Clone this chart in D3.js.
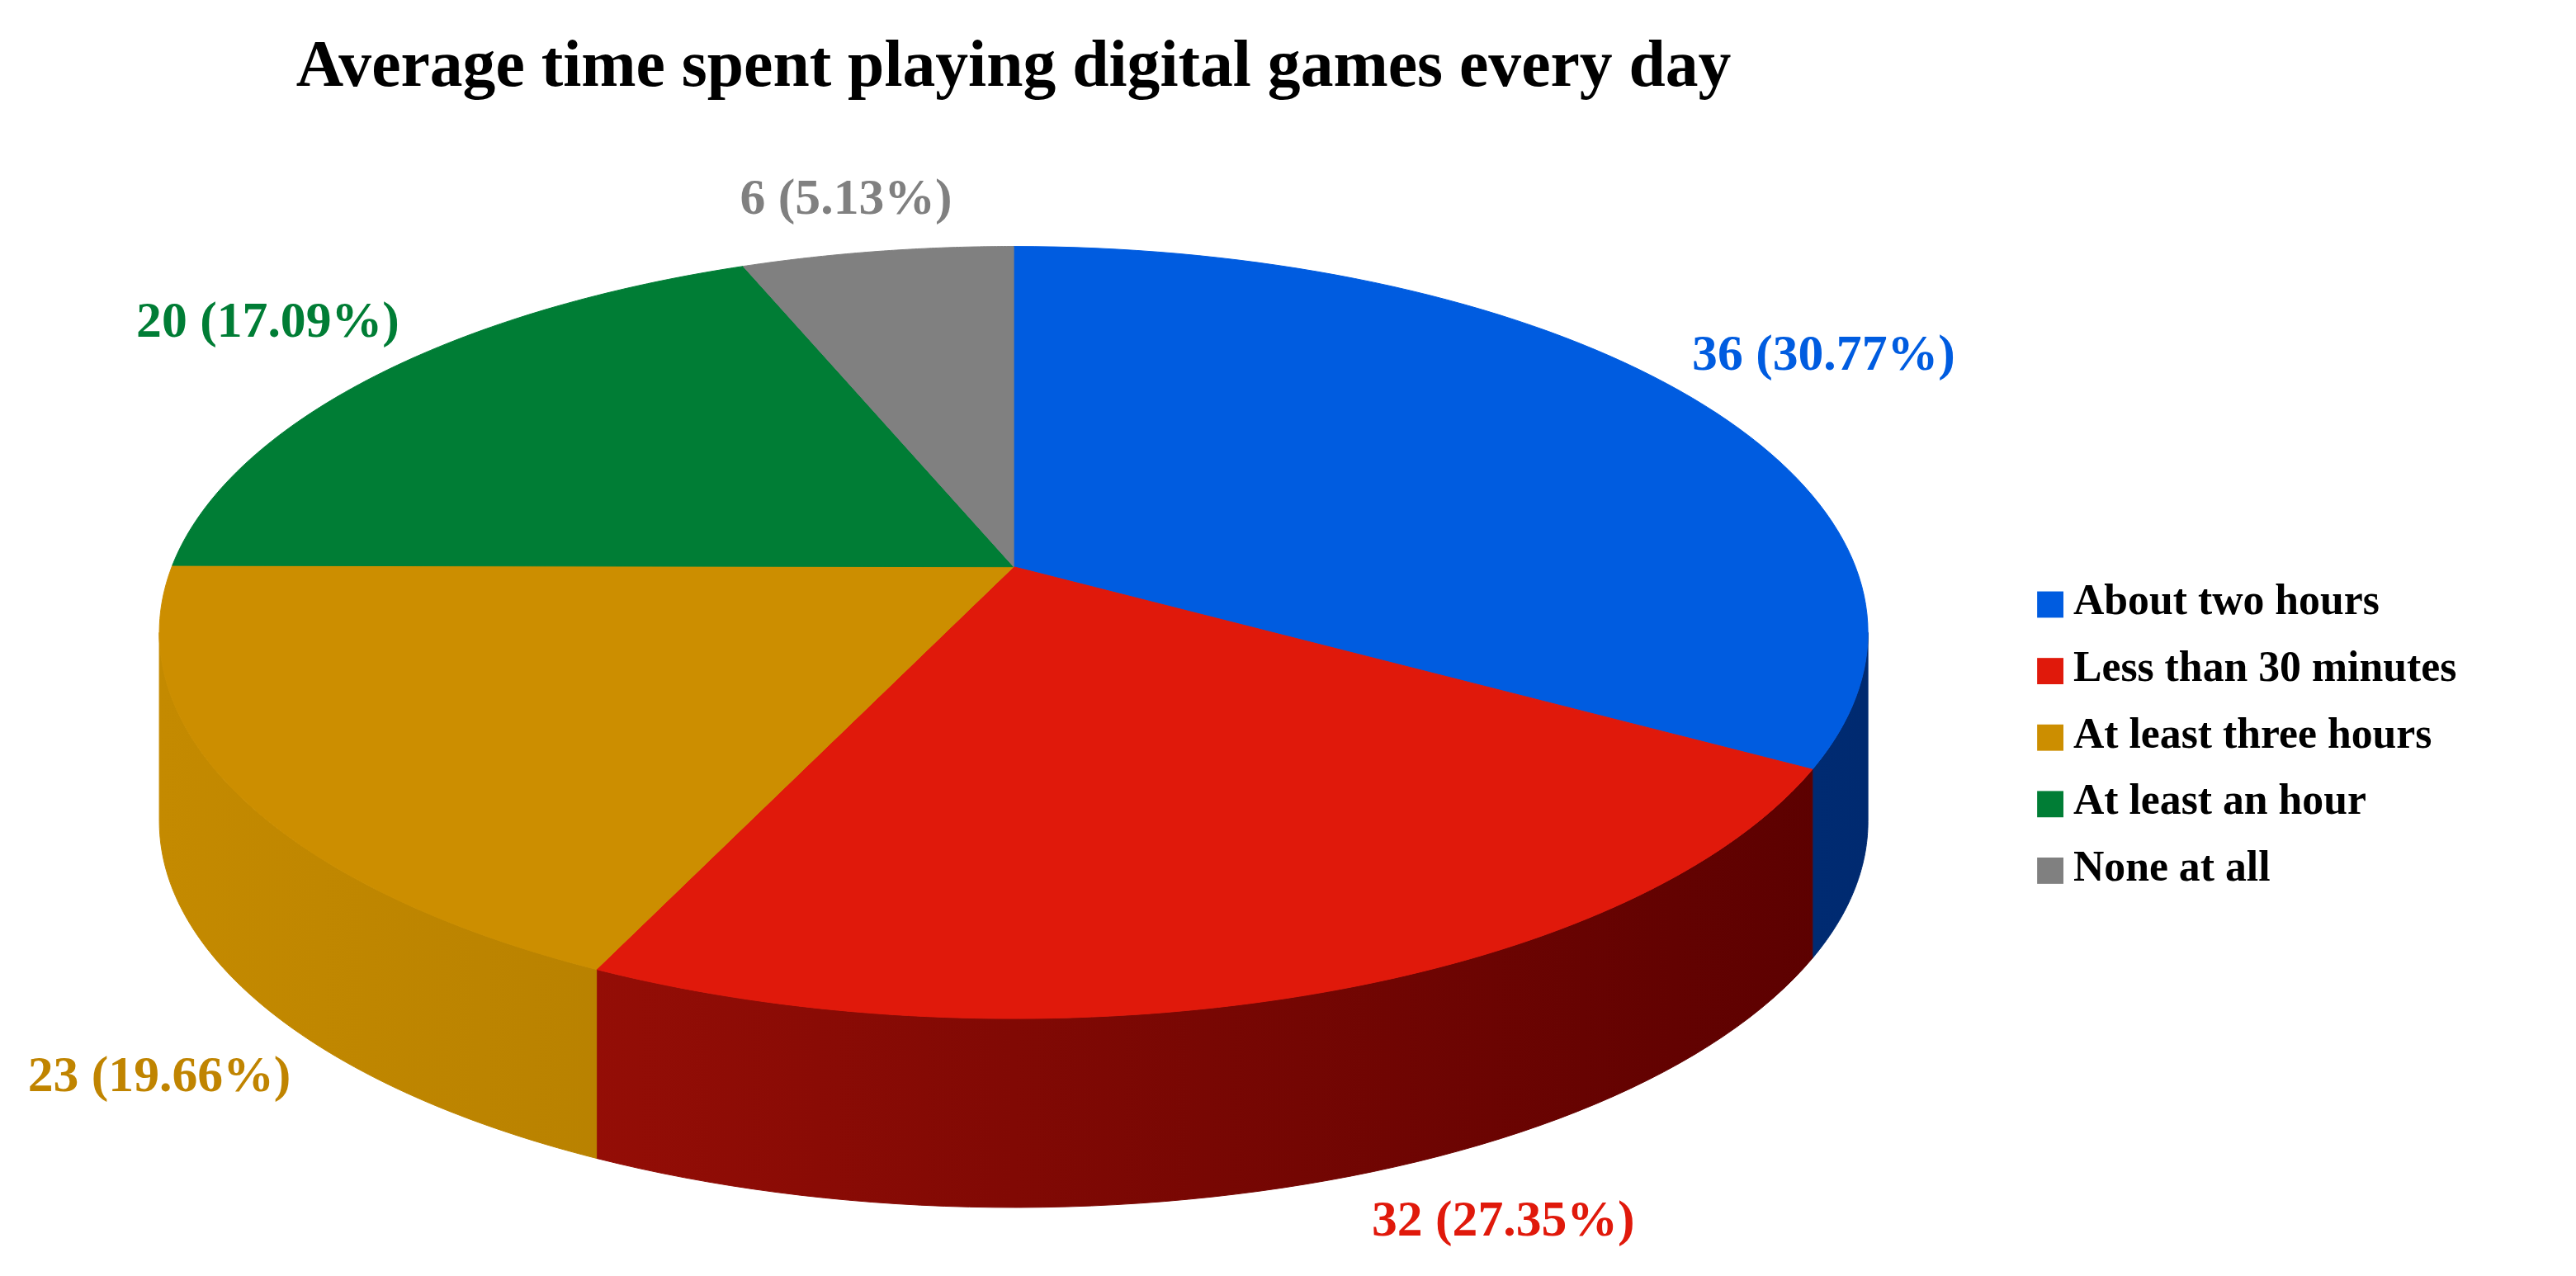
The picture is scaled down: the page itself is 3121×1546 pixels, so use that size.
<!DOCTYPE html><html><head><meta charset="utf-8">
<script src="https://cdn.jsdelivr.net/npm/d3@7"></script>
<style>body{margin:0;background:#fff}</style></head><body><svg id="c" width="3121" height="1546"></svg>
<script>
const categories=["About two hours","Less than 30 minutes","At least three hours","At least an hour","None at all"];
const values=[36,32,23,20,6];
const colors=["#005ce0","#e0190b","#cc8e00","#007d35","#808080"];
const sideDark=["#002a70","#5a0000","#9a6a00","#003d18","#404040"];
const sideLight=["#0048b0","#a81208","#c48a00","#006028","#606060"];
const labelPos=[[1110,218],[915,745],[97,657],[163,198],[515,123]];
const W=3121,H=1546,s=W/1568;
const svg=d3.select("#c").append("g").attr("transform",`scale(${s})`);
const total=d3.sum(values);
const pie=d3.pie().sort(null).value(d=>d).startAngle(0).endAngle(2*Math.PI)(values);
const cx=617,cy=385,rx=520,ry=235,vy=345,depth=115;
const pt=(t,dy=0)=>[cx+rx*Math.sin(t),cy-ry*Math.cos(t)+dy];
const defs=svg.append("defs");
svg.append("text").attr("x",617).attr("y",52).attr("text-anchor","middle").attr("font-family","Liberation Serif").attr("font-weight","bold").attr("font-size",40).text("Average time spent playing digital games every day");
pie.forEach((p,i)=>{
  const a=Math.max(p.startAngle,Math.PI/2),b=Math.min(p.endAngle,3*Math.PI/2);
  if(b<=a)return;
  const g=defs.append("linearGradient").attr("id","g"+i).attr("gradientUnits","userSpaceOnUse").attr("x1",cx-rx).attr("x2",cx+rx).attr("y1",0).attr("y2",0);
  g.append("stop").attr("offset",0).attr("stop-color",sideLight[i]);
  g.append("stop").attr("offset",1).attr("stop-color",sideDark[i]);
  const n=60,top=[],bot=[];
  for(let k=0;k<=n;k++){const t=a+(b-a)*k/n;top.push(pt(t));bot.push(pt(t,depth));}
  svg.append("path").attr("d",d3.line()(top.concat(bot.reverse()))+"Z").attr("fill",`url(#g${i})`).attr("stroke",`url(#g${i})`).attr("stroke-width",0.5);
});
pie.forEach((p,i)=>{
  const n=80,pts=[[cx,vy]];
  for(let k=0;k<=n;k++)pts.push(pt(p.startAngle+(p.endAngle-p.startAngle)*k/n));
  svg.append("path").attr("d",d3.line()(pts)+"Z").attr("fill",colors[i]).attr("stroke",colors[i]).attr("stroke-width",0.5);
});
pie.forEach((p,i)=>{
  svg.append("text").attr("x",labelPos[i][0]).attr("y",labelPos[i][1]).attr("text-anchor","middle").attr("dominant-baseline","middle")
   .attr("font-family","Liberation Serif").attr("font-weight","bold").attr("font-size",31).attr("fill",i==2?"#c08400":colors[i])
   .text(`${values[i]} (${(values[i]/total*100).toFixed(2)}%)`);
});
const lg=svg.append("g");
categories.forEach((c,i)=>{
  const y=368+i*40.5;
  lg.append("rect").attr("x",1240).attr("y",y-8).attr("width",16).attr("height",16).attr("fill",colors[i]);
  lg.append("text").attr("x",1262).attr("y",y).attr("dominant-baseline","middle").attr("font-family","Liberation Serif").attr("font-weight","bold").attr("font-size",26).text(c);
});
</script></body></html>
